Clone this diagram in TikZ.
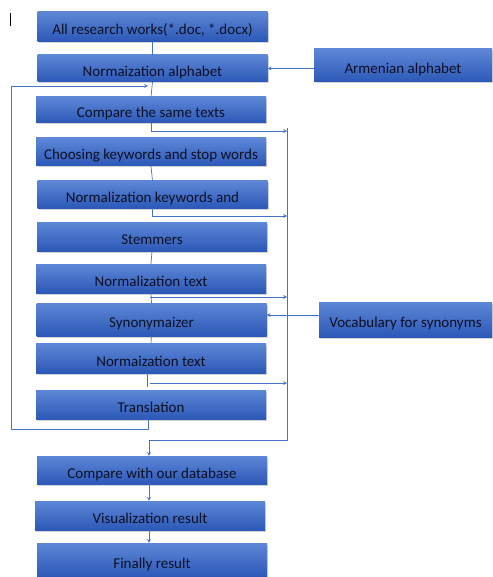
\documentclass[tikz,border=0pt]{standalone}
\usepackage{fontspec}
\setmainfont{Carlito}
\usepackage{tikz}
\usetikzlibrary{positioning,shadows}
\definecolor{boxtop}{RGB}{93,135,214}
\definecolor{boxbot}{RGB}{44,88,184}
\definecolor{linecol}{RGB}{68,114,196}
\definecolor{txtcol}{RGB}{12,16,34}

\begin{document}
\begin{tikzpicture}[x=1pt, y=-1pt, >=stealth,
    every node/.style={font=\fontsize{15}{17}\selectfont},
    stagebox/.style={rectangle, top color=boxtop, bottom color=boxbot, text=txtcol,
        minimum width=230pt, inner sep=0pt, text height=16pt, text depth=0pt,
        drop shadow={shadow xshift=1.2pt, shadow yshift=-1.5pt, opacity=0.35}},
    link/.style={draw=linecol, line width=0.7pt},
    arr/.style={link, ->}]
    \useasboundingbox (0,0) rectangle (492,577);
    \draw[black, line width=0.6pt] (10,13) -- (10,26);
			
    \node[stagebox, minimum height=30pt] (b1) at (152.5,26.5) {All research works(*.doc, *.docx)};
    \node[stagebox, minimum height=27pt] (b2) at (152.5,68.5) {Normaization alphabet};
    \node[stagebox, minimum height=26pt] (b3) at (151,110) {Compare the same texts};
    \node[stagebox, minimum height=28pt] (b4) at (151,152) {Choosing keywords and stop words};
    \node[stagebox, minimum height=27pt] (b5) at (152.5,194.5) {Normalization keywords and};
    \node[stagebox, minimum height=29pt] (b6) at (152,236.5) {Stemmers};
    \node[stagebox, minimum height=29pt] (b7) at (151,278.5) {Normalization text};
    \node[stagebox, minimum height=33pt] (b8) at (151.5,319.5) {Synonymaizer};
    \node[stagebox, minimum height=30pt] (b9) at (151,358) {Normaization text};
    \node[stagebox, minimum height=29pt] (b10) at (151,404.5) {Translation};
    \node[stagebox, minimum height=28pt] (b11) at (152,470) {Compare with our database};
    \node[stagebox, minimum height=29pt] (b12) at (150,515.5) {Visualization result};
    \node[stagebox, minimum height=34pt] (b13) at (152,560) {Finally result};
			
    \node[stagebox, minimum width=178pt, minimum height=33pt] (arm) at (403,65.5) {Armenian alphabet};
    \node[stagebox, minimum width=173pt, minimum height=35pt] (voc) at (405.5,319.5) {Vocabulary for synonyms};
			
    \coordinate (bustop) at (287,128);
    \coordinate (busbot) at (287,440);
    \coordinate (loopL) at (11,429);
    \coordinate (loopin) at (148,86);
    \coordinate (j7) at (150,297);
    \coordinate (j9) at (150,383);
			
    \draw[link] (b1.south) -- (b2.north);
    \draw[link] (b2.south) -- (b3.north);
    \draw[link] (b4.south) -- (b5.north);
    \draw[link] (b6.south) -- (b7.north);
    \draw[link] (b7.south) -- (b8.north);
    \draw[link] (b8.south) -- (b9.north);
    \draw[link] ([xshift=-4pt]b9.south) -- ++(0,14);
			
    \draw[arr] (arm.west |- b2.east) -- (b2.east);
    \draw[arr] ([yshift=4.5pt]voc.west) -- ([yshift=4.5pt]b8.east);
			
    \draw[arr] ([xshift=-3pt]b10.south) |- (loopL) |- (loopin);
			
    \draw[arr] (b3.south) |- (bustop |- 0,131);
    \draw[arr] (b5.south) |- (bustop |- 0,216);
    \draw[arr] (j7) -- (j7 -| bustop);
    \draw[arr] (j9) -- (j9 -| bustop);
    \draw[arr] (bustop) -- (busbot) -| ([xshift=-3pt]b11.north);
			
    \draw[arr] ([xshift=-3pt]b11.south) -- ([xshift=-1pt]b12.north);
    \draw[arr] ([xshift=-1pt]b12.south) -- ([xshift=-3pt]b13.north);
\end{tikzpicture}
\end{document}
